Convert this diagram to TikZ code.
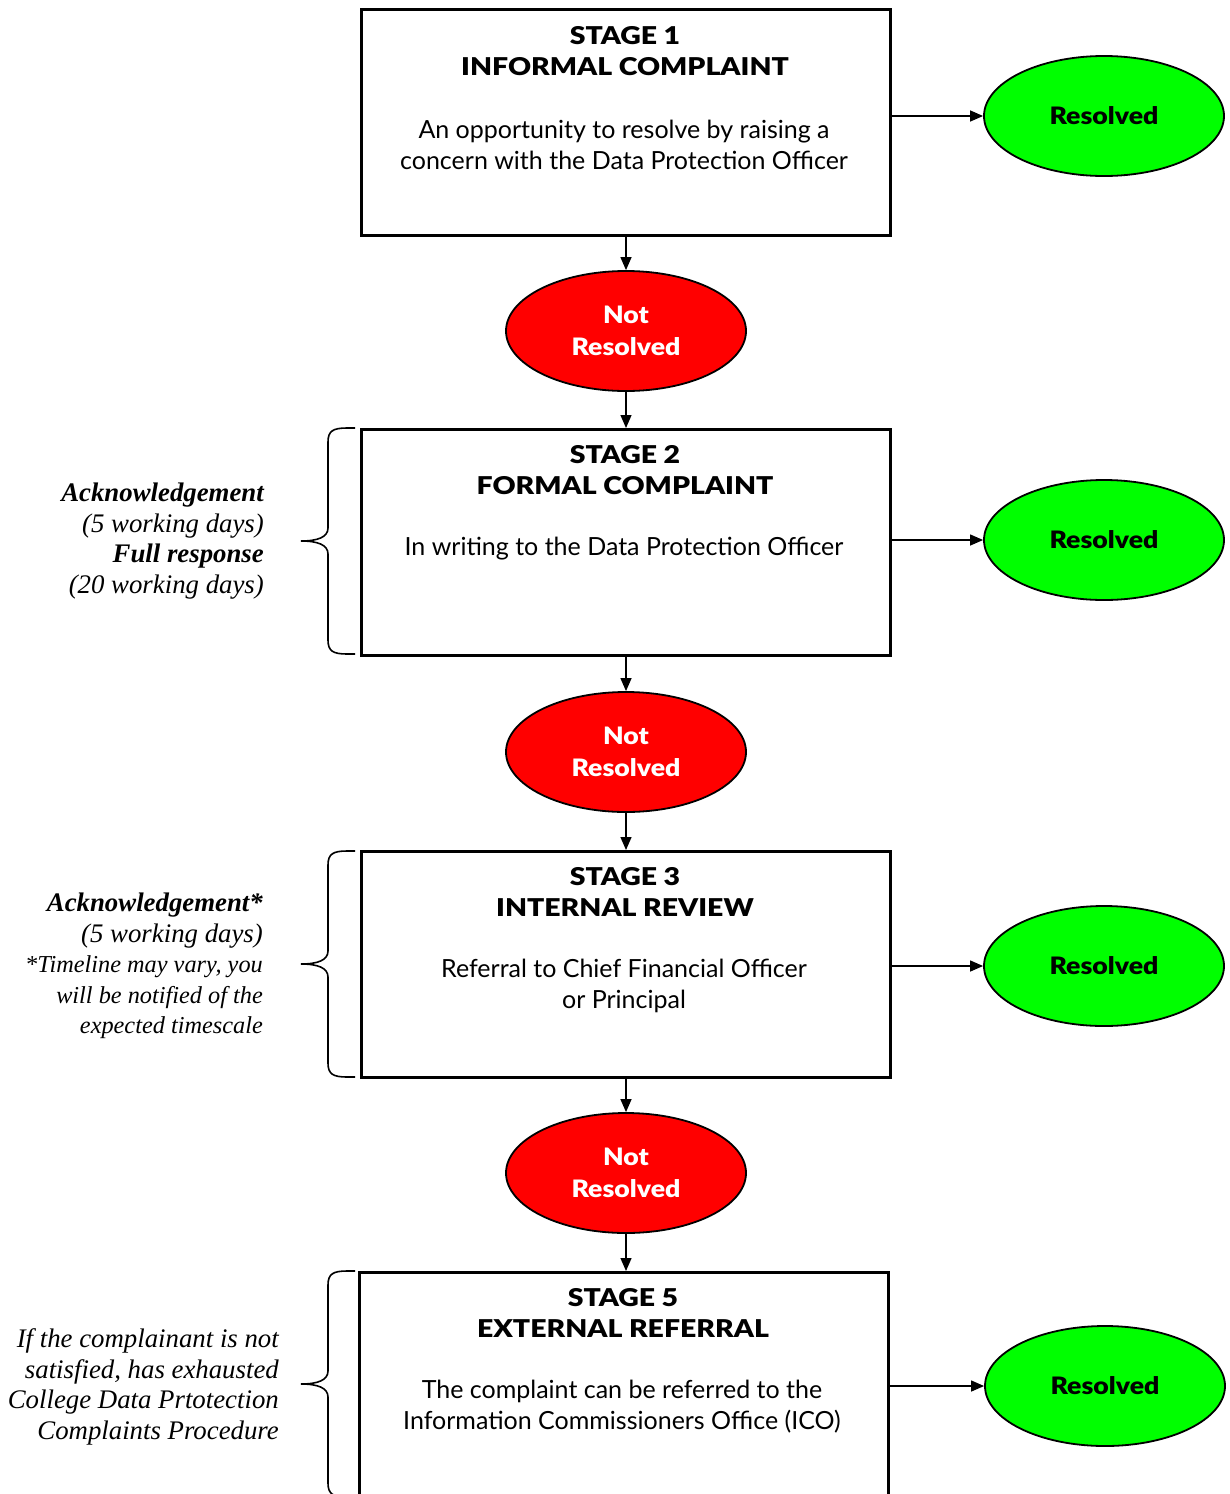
\documentclass[tikz,border=0pt]{standalone}
\usepackage{fontspec}
\setmainfont{Liberation Serif}
\newfontfamily\gill{Lato}
\newfontfamily\gillbold[FakeStretch=1.11]{Lato Black}
\newfontfamily\gilltitle[FakeStretch=1.16]{Lato Black}
\usetikzlibrary{shapes.geometric,arrows.meta}
\tikzset{
  stagebox/.style={draw, line width=2.6pt, minimum width=529pt, minimum height=226pt, inner sep=0pt, anchor=north west},
  okell/.style={ellipse, draw, line width=1.8pt, fill={rgb,255:red,0;green,255;blue,0}, minimum width=240pt, minimum height=120pt, inner sep=0pt, font=\gillbold\fontsize{24}{31}\selectfont},
  badell/.style={ellipse, draw, line width=1.8pt, fill={rgb,255:red,255;green,0;blue,0}, text=white, minimum width=240pt, minimum height=120pt, inner sep=0pt, align=center, font=\gillbold\fontsize{24}{32}\selectfont},
  titletxt/.style={align=center, inner sep=0pt, font=\gilltitle\fontsize{24.5}{31}\selectfont},
  bodytxt/.style={align=center, inner sep=0pt, font=\gill\fontsize{25}{31}\selectfont},
  sidetxt/.style={align=right, inner sep=0pt, anchor=east, font=\itshape\fontsize{26.8}{30.5}\selectfont},
  arr/.style={line width=1.3pt, -{Triangle[length=13pt,width=11pt]}},
  bracestroke/.style={line width=1.6pt},
  pics/stagebrace/.style={code={
    \draw[bracestroke] (355,0) -- (347,0) .. controls (333,0) and (328,3) .. (328,14) -- (328,100)
      .. controls (328,109) and (318,113) .. (301,113)
      .. controls (318,113) and (328,117) .. (328,126) -- (328,212)
      .. controls (328,223) and (333,226) .. (347,226) -- (355,226);
  }}
}
\begin{document}
\begin{tikzpicture}[x=1pt,y=-1pt]
\useasboundingbox (0,0) rectangle (1229,1494);
\clip (0,0) rectangle (1229,1494);

% Stage 1
\node[stagebox] (s1) at (360,8) {};
\node[titletxt] (t1) at (625,51) {STAGE 1\\INFORMAL COMPLAINT};
\node[bodytxt] (b1) at (624,145) {An opportunity to resolve by raising a\\concern with the Data Protection Officer};
\node[okell] (r1) at (1104,116) {Resolved};
\node[badell] (n1) at (626,331) {Not\\Resolved};

% Stage 2
\node[stagebox] (s2) at (360,428) {};
\node[titletxt] (t2) at (625,470) {STAGE 2\\FORMAL COMPLAINT};
\node[bodytxt] (b2) at (624,549) {In writing to the Data Protection Officer};
\node[okell] (r2) at (1104,540) {Resolved};
\node[badell] (n2) at (626,752) {Not\\Resolved};
\pic at (0,428) {stagebrace};
\node[sidetxt] (l2) at (264,541) {\textbf{Acknowledgement}\\(5 working days)\\\textbf{Full response}\\(20 working days)};

% Stage 3
\node[stagebox] (s3) at (360,850) {};
\node[titletxt] (t3) at (625,892) {STAGE 3\\INTERNAL REVIEW};
\node[bodytxt] (b3) at (624,986) {Referral to Chief Financial Officer\\or Principal};
\node[okell] (r3) at (1104,966) {Resolved};
\node[badell] (n3) at (626,1173) {Not\\Resolved};
\pic at (0,851) {stagebrace};
\node[sidetxt] (l3) at (263,966) {\textbf{Acknowledgement*}\\(5 working days)\\{\fontsize{24.3}{28}\selectfont *Timeline may vary, you}\\{\fontsize{24.3}{28}\selectfont will be notified of the}\\{\fontsize{24.3}{28}\selectfont expected timescale}};

% Stage 5
\node[stagebox] (s4) at (358,1271) {};
\node[titletxt] (t4) at (623,1313) {STAGE 5\\EXTERNAL REFERRAL};
\node[bodytxt] (b4) at (622,1407) {The complaint can be referred to the\\Information Commissioners Office (ICO)};
\node[okell] (r4) at (1105,1386) {Resolved};
\pic at (0,1271) {stagebrace};
\node[sidetxt] (l4) at (279,1387) {If the complainant is not\\satisfied, has exhausted\\College Data Prtotection\\Complaints Procedure};

% Connectors
\draw[arr] (r1.west -| s1.east) -- (r1.west);
\draw[arr] (r2.west -| s2.east) -- (r2.west);
\draw[arr] (r3.west -| s3.east) -- (r3.west);
\draw[arr] (r4.west -| s4.east) -- (r4.west);
\draw[arr] (s1.south -| n1.north) -- (n1.north);
\draw[arr] (n1.south) -- (n1.south |- s2.north);
\draw[arr] (s2.south -| n2.north) -- (n2.north);
\draw[arr] (n2.south) -- (n2.south |- s3.north);
\draw[arr] (s3.south -| n3.north) -- (n3.north);
\draw[arr] (n3.south) -- (n3.south |- s4.north);
\end{tikzpicture}
\end{document}
